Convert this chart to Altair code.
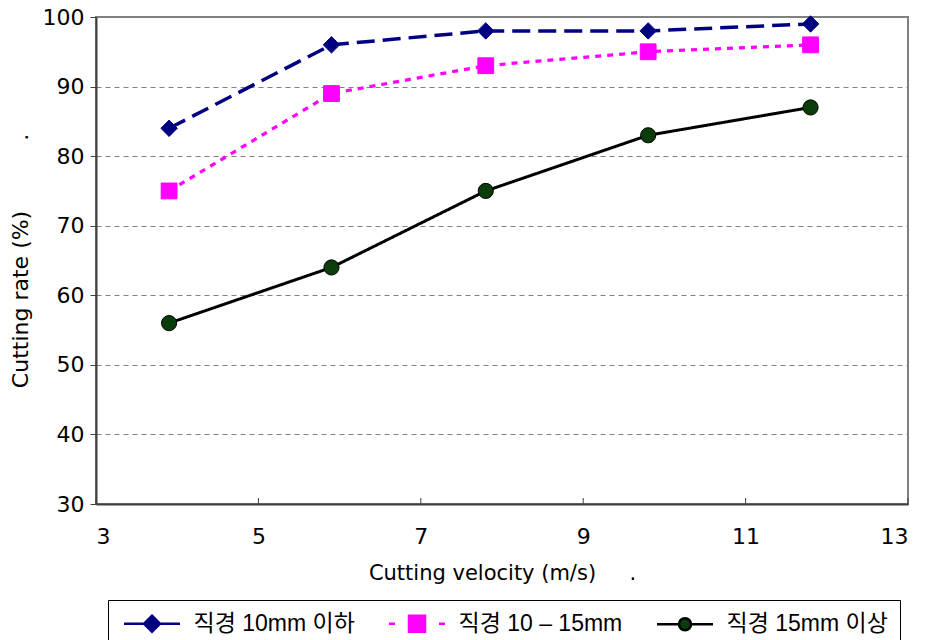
import altair as alt
import pandas as pd

# ---- data ----
velocity = [3.9, 5.9, 7.8, 9.8, 11.8]
series_names = ["직경 10mm 이하", "직경 10 – 15mm", "직경 15mm 이상"]
rate_small = [84, 96, 98, 98, 99]
rate_mid = [75, 89, 93, 95, 96]
rate_large = [56, 64, 75, 83, 87]
x_ticks = [3, 5, 7, 9, 11, 13]
y_ticks = [30, 40, 50, 60, 70, 80, 90, 100]

rows = []
for name, vals in zip(series_names, [rate_small, rate_mid, rate_large]):
    for v, r in zip(velocity, vals):
        rows.append({"series": name, "velocity": v, "rate": r})
df = pd.DataFrame(rows)
tick_df = pd.DataFrame({"velocity": x_ticks})

NB = "\u00a0"
line_colors = ["#000080", "#FF00FF", "#000000"]
fill_colors = ["#000080", "#FF00FF", "#0B3D0B"]

x_enc = alt.X(
    "velocity:Q",
    scale=alt.Scale(domain=[3, 13], nice=False, zero=False),
    axis=alt.Axis(values=x_ticks, grid=False, ticks=False, labelPadding=22,
                  title="Cutting velocity (m/s)" + NB * 5 + ".", titlePadding=15,
                  titleFontSize=21),
)
y_enc = alt.Y(
    "rate:Q",
    scale=alt.Scale(domain=[30, 100], nice=False, zero=False),
    axis=alt.Axis(values=y_ticks, grid=True, gridDash=[5, 4], tickSize=6,
                  labelPadding=6, title="Cutting rate (%)" + NB * 10 + ".",
                  titlePadding=10, titleFontSize=22),
)

dom = series_names

lines = alt.Chart(df).mark_line().encode(
    x=x_enc,
    y=y_enc,
    detail="series:N",
    color=alt.Color("series:N", scale=alt.Scale(domain=dom, range=line_colors), legend=None),
    strokeDash=alt.StrokeDash("series:N", scale=alt.Scale(domain=dom, range=[[18, 8], [6, 6], [1, 0]]), legend=None),
    strokeWidth=alt.StrokeWidth("series:N", scale=alt.Scale(domain=dom, range=[3.5, 3, 2.5]), legend=None),
)

points = alt.Chart(df).mark_point(filled=True, opacity=1, strokeWidth=1).encode(
    x=x_enc,
    y=y_enc,
    shape=alt.Shape("series:N", scale=alt.Scale(domain=dom, range=["diamond", "square", "circle"]), legend=None),
    fill=alt.Fill("series:N", scale=alt.Scale(domain=dom, range=fill_colors), legend=None),
    stroke=alt.Stroke("series:N", scale=alt.Scale(domain=dom, range=line_colors), legend=None),
    size=alt.Size("series:N", scale=alt.Scale(domain=dom, range=[270, 230, 150]), legend=None),
)

legend_paths = [
    "M-2.8,0H-0.8M0.8,0H2.8M0,-0.8L0.8,0L0,0.8L-0.8,0Z",
    "M-2.8,0H-2.2M2.2,0H2.8M-0.8,-0.8H0.8V0.8H-0.8Z",
    "M-2.8,0H-0.6M0.6,0H2.8M-0.6,0A0.6,0.6,0,1,0,0.6,0A0.6,0.6,0,1,0,-0.6,0Z",
]

leg = alt.Legend(
    title=None, orient="none", legendX=12, legendY=583, direction="horizontal",
    columns=3, symbolSize=400, symbolStrokeWidth=2.5, symbolOffset=20.5,
    labelOffset=30, labelFont="Liberation Sans, Noto Sans CJK KR", labelFontSize=23,
    labelColor="black", columnPadding=29, padding=12, strokeColor="black",
    fillColor="white", symbolOpacity=1, labelLimit=400,
)

legend_layer = alt.Chart(df).mark_point(filled=True, opacity=0).encode(
    x=x_enc,
    y=y_enc,
    shape=alt.Shape("series:N", scale=alt.Scale(domain=dom, range=legend_paths), legend=leg),
    fill=alt.Fill("series:N", scale=alt.Scale(domain=dom, range=fill_colors), legend=leg),
    stroke=alt.Stroke("series:N", scale=alt.Scale(domain=dom, range=line_colors), legend=leg),
)

inner_ticks = alt.Chart(tick_df).mark_rule(color="#404040", strokeWidth=1).encode(
    x=x_enc,
    y=alt.value(487),
    y2=alt.value(481),
)

chart = (
    alt.layer(lines, points, legend_layer, inner_ticks)
    .resolve_scale(shape="independent", fill="independent", stroke="independent")
    .properties(
        width=812,
        height=487,
        autosize=alt.AutoSizeParams(type="none"),
        padding={"left": 96, "top": 17, "right": 22, "bottom": 136},
        background="white",
    )
    .configure_view(stroke="#808080", strokeWidth=2)
    .configure_axis(
        domainColor="#404040", domainWidth=2,
        labelFont="DejaVu Sans", labelFontSize=22, labelColor="black",
        titleFont="DejaVu Sans", titleFontWeight="normal",
        titleColor="black", tickColor="#404040", gridColor="#808080", gridWidth=1,
    )
)

chart.save("out.html", embed_options={"renderer": "svg", "actions": False})
